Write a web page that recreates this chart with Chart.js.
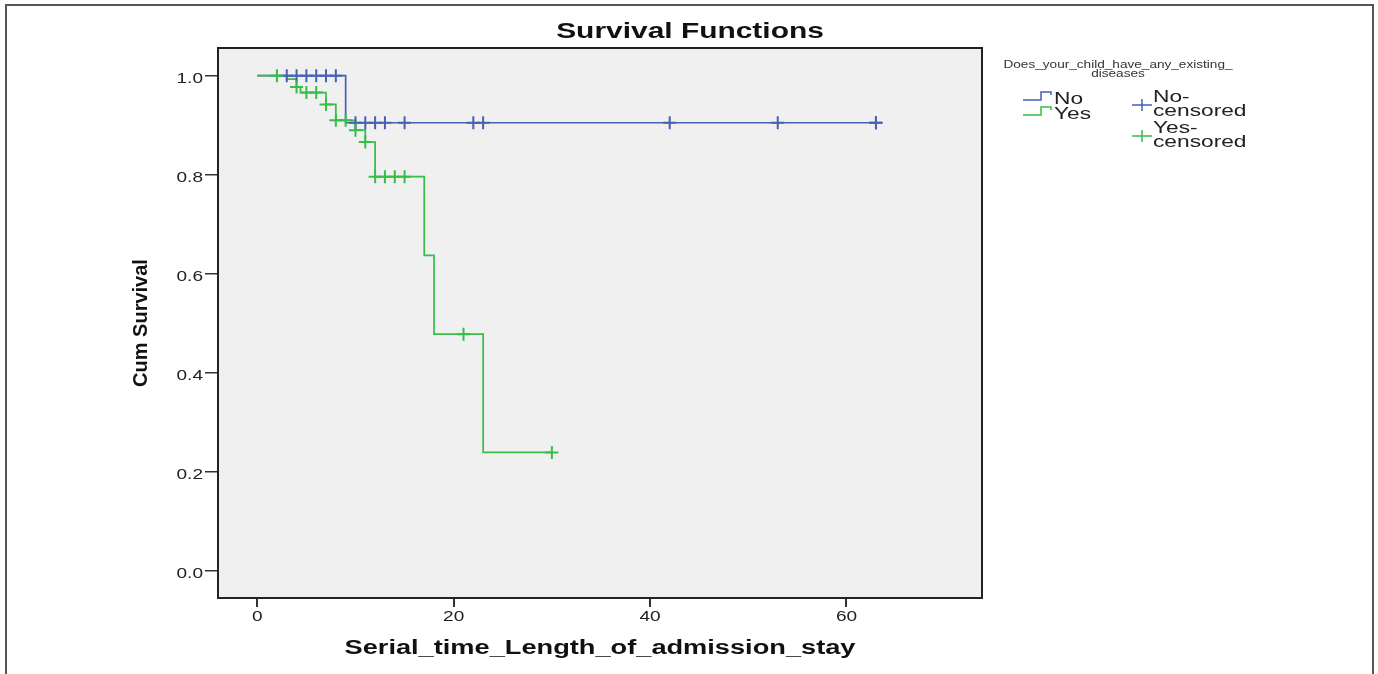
<!DOCTYPE html>
<html>
<head>
<meta charset="utf-8">
<script src="https://cdn.jsdelivr.net/npm/chart.js@4.4.1/dist/chart.umd.min.js"></script>
<style>
  html, body { margin: 0; background: #fff; }
</style>
</head>
<body>
<canvas id="km" width="1378" height="674"></canvas>
<script>
// Kaplan-Meier steps (time of step, survival after it)
const noTimes  = [0, 9, 63];
const noSurv   = [1.0, 0.905, 0.905];
const noCensored = [3, 4, 5, 6, 7, 8, 10, 11, 12, 13, 15, 22, 23, 42, 53, 63, 63];

const yesTimes = [0, 3, 4, 4.4, 7, 8, 10, 11, 12, 17, 18, 23, 30];
const yesSurv  = [1.0, 0.993, 0.977, 0.966, 0.942, 0.910, 0.890, 0.866, 0.796, 0.637, 0.478, 0.239, 0.239];
const yesCensored = [2, 4, 5, 6, 7, 8, 9, 10, 11, 12, 13, 14, 15, 21, 30];

const xTicks = [0, 20, 40, 60];
const yTicks = [0, 0.2, 0.4, 0.6, 0.8, 1.0];

const BLUE  = '#4660b6';
const GREEN = '#37bd48';
const SX = 1.36;   // the source picture is stretched sideways

// survival level in force at time t (censor marks sit on the curve)
function levelAt(times, surv, t) {
  let s = surv[0];
  times.forEach((tt, i) => { if (tt <= t) s = surv[i]; });
  return s;
}

const stepPts   = (times, surv) => times.map((t, i) => ({ x: t, y: surv[i] }));
const censorPts = (cens, times, surv) => cens.map(t => ({ x: t, y: levelAt(times, surv, t) }));

function wideText(ctx, str, x, y, font, align, sx) {
  ctx.save();
  ctx.font = font;
  ctx.textAlign = align;
  ctx.textBaseline = 'alphabetic';
  ctx.translate(x, y);
  ctx.scale(sx, 1);
  ctx.fillText(str, 0, 0);
  ctx.restore();
}

// grey plot panel + frame, and all the text in the SPSS look
const decor = {
  id: 'decor',
  beforeDraw(chart) {
    const { ctx, chartArea: a } = chart;
    ctx.save();
    ctx.fillStyle = '#f0f0f0';
    ctx.fillRect(a.left, a.top, a.right - a.left, a.bottom - a.top);
    // outer picture frame
    ctx.strokeStyle = '#555';
    ctx.lineWidth = 2;
    ctx.beginPath();
    ctx.moveTo(6, 674); ctx.lineTo(6, 5); ctx.lineTo(1373, 5); ctx.lineTo(1373, 674);
    ctx.stroke();
    ctx.restore();
  },
  afterDraw(chart) {
    const { ctx, chartArea: a, scales } = chart;
    ctx.save();
    ctx.strokeStyle = '#222';
    ctx.lineWidth = 2;
    ctx.strokeRect(a.left, a.top, a.right - a.left, a.bottom - a.top);

    ctx.fillStyle = '#111';
    wideText(ctx, 'Survival Functions', 690, 38, 'bold 22px "Liberation Sans"', 'center', SX);
    wideText(ctx, 'Serial_time_Length_of_admission_stay', (a.left + a.right) / 2, 654,
             'bold 20px "Liberation Sans"', 'center', SX);

    ctx.save();
    ctx.font = 'bold 20px "Liberation Sans"';
    ctx.textAlign = 'center';
    ctx.translate(147, (a.top + a.bottom) / 2);
    ctx.rotate(-Math.PI / 2);
    ctx.fillText('Cum Survival', 0, 0);
    ctx.restore();

    ctx.fillStyle = '#222';
    yTicks.forEach(v => {
      wideText(ctx, v.toFixed(1), a.left - 15, scales.y.getPixelForValue(v) + 7,
               '14px "Liberation Sans"', 'right', SX);
    });
    xTicks.forEach(v => {
      wideText(ctx, String(v), scales.x.getPixelForValue(v), 621,
               '14px "Liberation Sans"', 'center', SX);
    });

    // legend
    ctx.fillStyle = '#333';
    wideText(ctx, 'Does_your_child_have_any_existing_', 1118, 68, '10px "Liberation Sans"', 'center', SX);
    wideText(ctx, 'diseases', 1118, 77, '10px "Liberation Sans"', 'center', SX);

    ctx.lineWidth = 1.5;
    [[BLUE, 100, 'No'], [GREEN, 115, 'Yes']].forEach(([c, y, t]) => {
      ctx.strokeStyle = c;
      ctx.beginPath();
      ctx.moveTo(1023, y); ctx.lineTo(1041, y); ctx.lineTo(1041, y - 8);
      ctx.lineTo(1051, y - 8); ctx.lineTo(1051, y - 5);
      ctx.stroke();
      ctx.fillStyle = '#222';
      wideText(ctx, t, 1054, y + 4, '16px "Liberation Sans"', 'left', 1.42);
    });
    [[BLUE, 105, 'No-'], [GREEN, 136, 'Yes-']].forEach(([c, y, t]) => {
      ctx.strokeStyle = c;
      ctx.beginPath();
      ctx.moveTo(1132, y); ctx.lineTo(1152, y);
      ctx.moveTo(1142, y - 6); ctx.lineTo(1142, y + 6);
      ctx.stroke();
      ctx.fillStyle = '#222';
      wideText(ctx, t, 1153, y - 3, '16px "Liberation Sans"', 'left', 1.42);
      wideText(ctx, 'censored', 1153, y + 11, '16px "Liberation Sans"', 'left', 1.42);
    });
    ctx.restore();
  }
};

new Chart(document.getElementById('km'), {
  type: 'line',
  data: {
    datasets: [
      {
        label: 'Yes-censored',
        data: censorPts(yesCensored, yesTimes, yesSurv),
        showLine: false,
        pointStyle: 'cross',
        pointRadius: 6.5,
        borderColor: GREEN,
        borderWidth: 2,
        order: 0,
      },
      {
        label: 'No-censored',
        data: censorPts(noCensored, noTimes, noSurv),
        showLine: false,
        pointStyle: 'cross',
        pointRadius: 6.5,
        borderColor: BLUE,
        borderWidth: 2,
        order: 1,
      },
      {
        label: 'Yes',
        data: stepPts(yesTimes, yesSurv),
        stepped: 'before',
        borderColor: GREEN,
        borderWidth: 1.7,
        pointRadius: 0,
        order: 2,
      },
      {
        label: 'No',
        data: stepPts(noTimes, noSurv),
        stepped: 'before',
        borderColor: BLUE,
        borderWidth: 1.7,
        pointRadius: 0,
        order: 3,
      },
    ],
  },
  options: {
    responsive: false,
    animation: false,
    layout: { padding: { left: 0, top: 48, right: 396, bottom: 0 } },
    plugins: {
      legend:  { display: false },
      tooltip: { enabled: false },
    },
    scales: {
      x: {
        type: 'linear',
        min: -4,
        max: 73.8,
        afterBuildTicks: s => { s.ticks = xTicks.map(v => ({ value: v })); },
        afterFit: s => { s.height = 76; },
        ticks:  { display: false },
        border: { display: false },
        grid: {
          drawOnChartArea: false,
          drawTicks: true,
          tickLength: 9,
          color: '#333',
          lineWidth: 2,
        },
      },
      y: {
        type: 'linear',
        min: -0.055,
        max: 1.056,
        afterBuildTicks: s => { s.ticks = yTicks.map(v => ({ value: v })); },
        afterFit: s => { s.width = 218; },
        ticks:  { display: false },
        border: { display: false },
        grid: {
          drawOnChartArea: false,
          drawTicks: true,
          tickLength: 13,
          color: '#333',
          lineWidth: 1.5,
        },
      },
    },
  },
  plugins: [decor],
});
</script>
</body>
</html>
